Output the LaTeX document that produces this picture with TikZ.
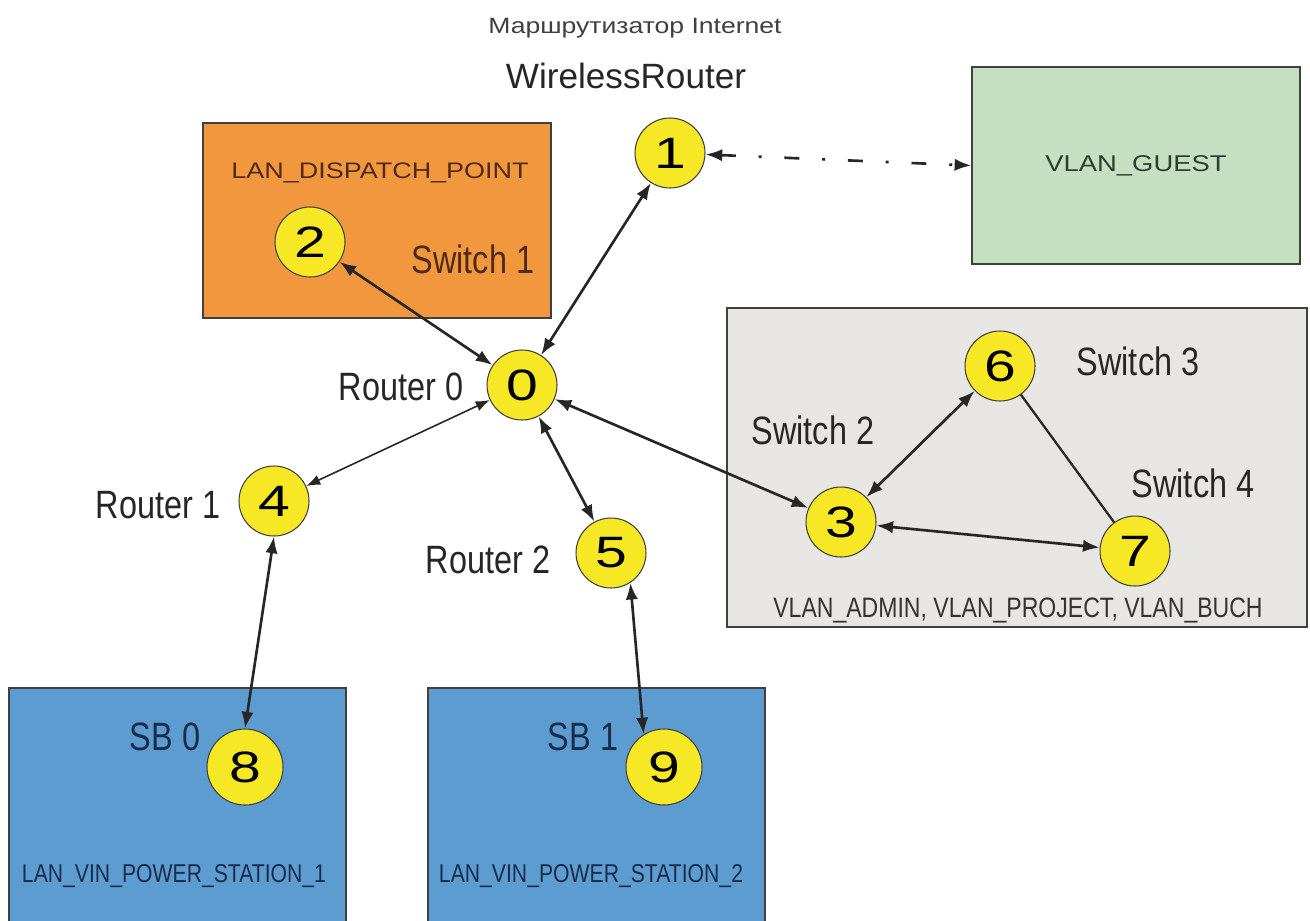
\documentclass[tikz,border=0pt]{standalone}
\usepackage{fontspec}
\setmainfont{Liberation Sans}
\newfontfamily\numfont[FakeStretch=1.3]{Liberation Sans}
\newfontfamily\narrowfont[FakeStretch=0.82]{Liberation Sans}
\newfontfamily\widefont[FakeStretch=1.2]{Liberation Sans}
\usetikzlibrary{arrows.meta}
\definecolor{hostyellow}{RGB}{246,232,36}
\definecolor{dispatchorange}{RGB}{241,152,62}
\definecolor{guestgreen}{RGB}{197,224,192}
\definecolor{adminpanel}{RGB}{232,230,226}
\definecolor{stationblue}{RGB}{92,156,208}
\definecolor{dispatchtext}{RGB}{80,42,22}
\definecolor{stationtext}{RGB}{25,45,75}
\definecolor{guesttext}{RGB}{45,62,48}
\tikzset{
    host/.style={circle,draw=black!75,line width=0.6pt,fill=hostyellow,
        minimum size=1.4cm,inner sep=0pt,font=\numfont\fontsize{25}{27}\selectfont},
    lan/.style={draw=black!75,line width=0.8pt,inner sep=0pt},
    link/.style={<->,line width=1.5pt,draw=black!85},
    devlabel/.style={anchor=base,font=\narrowfont\fontsize{22.5}{24}\selectfont,text=black!85},
}

\begin{document}
\begin{tikzpicture}[x=0.02cm,y=-0.02cm,>={Latex[length=9.5pt,width=7pt]}]
\clip (0,0) rectangle (1310,920);
\fill[white] (0,0) rectangle (1310,920);
\node[lan,fill=dispatchorange,minimum width=6.96cm,minimum height=3.9cm] (dispatch) at (377,220.5) {};
\node[lan,fill=guestgreen,minimum width=6.56cm,minimum height=3.94cm,
    font=\widefont\fontsize{13}{15}\selectfont,text=guesttext] (guest) at (1136,165.5) {VLAN\_GUEST};
\node[lan,fill=adminpanel,minimum width=11.6cm,minimum height=6.38cm] (admin) at (1017,467.5) {};
\node[lan,fill=stationblue,minimum width=6.74cm,minimum height=5.2cm] (station1) at (177.5,818) {};
\node[lan,fill=stationblue,minimum width=6.74cm,minimum height=5.2cm] (station2) at (596.5,818) {};

\node[host] (rt0) at (522,385) {0};
\node[host] (wr) at (670,153) {1};
\node[host] (sw1) at (310,242) {2};
\node[host] (sw2) at (841,522) {3};
\node[host] (rt1) at (274,501) {4};
\node[host] (rt2) at (611,553) {5};
\node[host] (sw3) at (1000,366) {6};
\node[host] (sw4) at (1135,551) {7};
\node[host,minimum size=1.52cm] (sb0) at (245,767) {8};
\node[host,minimum size=1.52cm] (sb1) at (664,767) {9};

\node[anchor=base,font=\widefont\fontsize{12.6}{14}\selectfont,text=black!75] (inet) at (635,33) {Маршрутизатор Internet};
\node[anchor=base,font=\fontsize{20}{22}\selectfont,text=black!85] (wrname) at (626,88) {WirelessRouter};
\node[anchor=base,font=\widefont\fontsize{12.8}{14}\selectfont,text=dispatchtext] (dispatchname) at (380,178) {LAN\_DISPATCH\_POINT};
\node[devlabel,text=dispatchtext] (sw1lbl) at (473,273) {Switch 1};
\node[devlabel] (rt0lbl) at (401,400) {Router 0};
\node[devlabel] (rt1lbl) at (158,518) {Router 1};
\node[devlabel] (rt2lbl) at (488,573) {Router 2};
\node[devlabel] (sw2lbl) at (813,444) {Switch 2};
\node[devlabel] (sw3lbl) at (1138,375) {Switch 3};
\node[devlabel] (sw4lbl) at (1193,497) {Switch 4};
\node[anchor=base,font=\narrowfont\fontsize{16}{18}\selectfont,text=black!80] (adminname) at (1018,617) {VLAN\_ADMIN, VLAN\_PROJECT, VLAN\_BUCH};
\node[devlabel,text=stationtext] (sb0lbl) at (165,750) {SB 0};
\node[devlabel,text=stationtext] (sb1lbl) at (583,750) {SB 1};
\node[anchor=base,font=\narrowfont\fontsize{14.7}{16}\selectfont,text=stationtext] (station1name) at (174,882) {LAN\_VIN\_POWER\_STATION\_1};
\node[anchor=base,font=\narrowfont\fontsize{14.7}{16}\selectfont,text=stationtext] (station2name) at (591,882) {LAN\_VIN\_POWER\_STATION\_2};

\draw[link] (rt0) -- (wr);
\draw[link] (rt0) -- (sw1);
\draw[link] (rt0) -- (sw2);
\draw[link,line width=0.9pt,>={Latex[length=8pt,width=6pt]}] (rt0) -- (rt1);
\draw[link] (rt0) -- (rt2);
\draw[link] (rt1.south) -- (sb0.north);
\draw[link] (rt2.-57) -- (sb1.122);
\draw[link] (sw2) -- (sw3);
\draw[link] (sw2) -- (sw4);
\draw[line width=1.3pt,draw=black!85] (sw3) -- (sw4);
\draw[link,dash pattern=on 8.5pt off 13pt on 1.7pt off 13pt] (wr) -- (guest.west);
\end{tikzpicture}
\end{document}
